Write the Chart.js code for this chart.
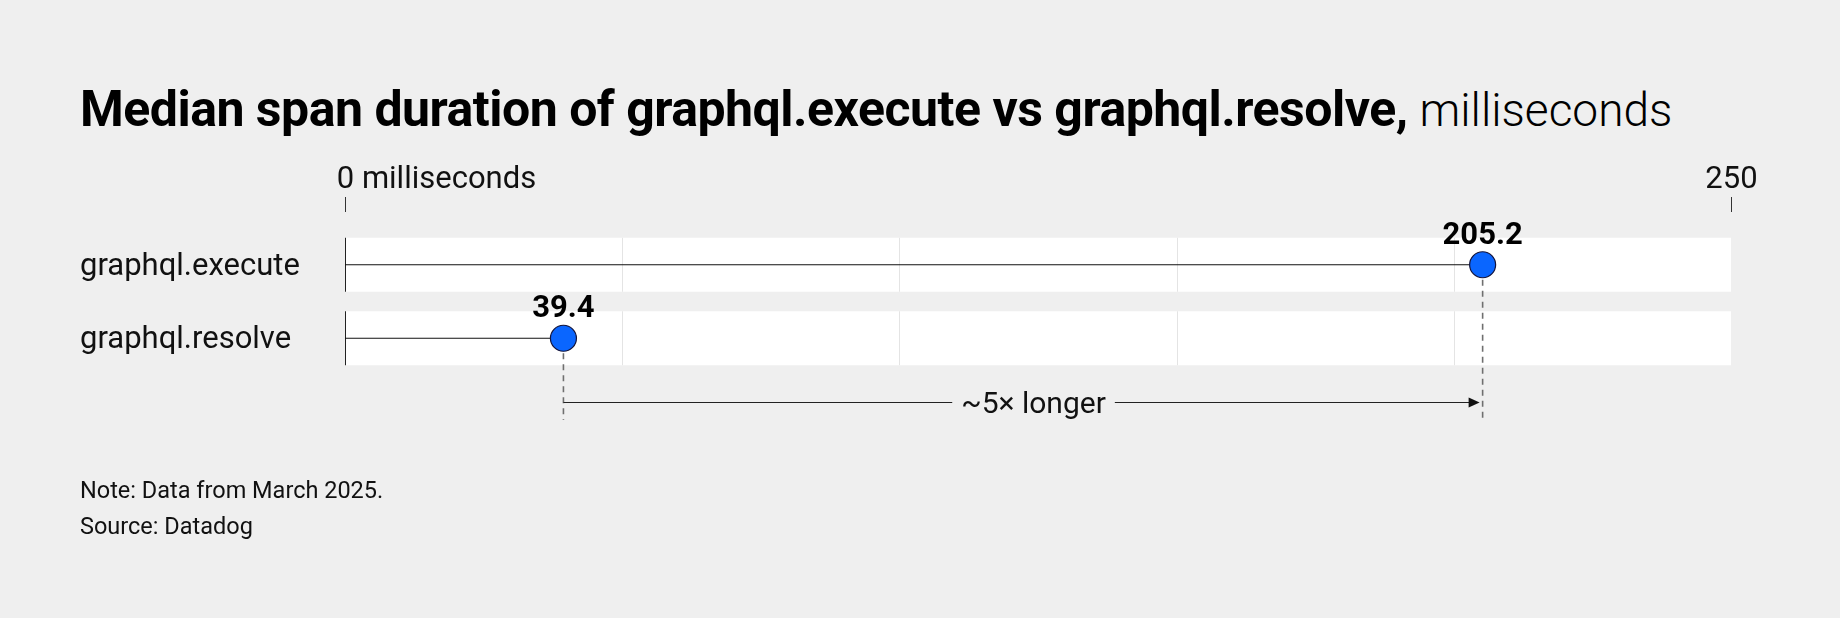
<!DOCTYPE html>
<html>
<head>
<meta charset="utf-8">
<script src="https://cdn.jsdelivr.net/npm/chart.js@4"></script>
<style>
  html, body { margin: 0; padding: 0; background: #efefef; }
  body { width: 1840px; height: 618px; position: relative; overflow: hidden; font-family: Roboto, sans-serif; color: #000; }
  #title { position: absolute; left: 80px; top: 80px; font-size: 50px; white-space: nowrap; letter-spacing: -0.5px; }
  #title b { font-weight: 700; }
  #title span { font-weight: 300; font-size: 46px; letter-spacing: 0; }
  .note { position: absolute; left: 80px; font-size: 23.5px; color: #111; }
  #wrap { position: absolute; left: 0; top: 0; width: 1840px; height: 618px; }
</style>
</head>
<body>
<div id="title"><b>Median span duration of graphql.execute vs graphql.resolve,</b> <span>milliseconds</span></div>
<div id="wrap"><canvas id="chart" width="1840" height="618"></canvas></div>
<div class="note" style="top:476px">Note: Data from March 2025.</div>
<div class="note" style="top:512px">Source: Datadog</div>
<script>
const categories = ['graphql.execute', 'graphql.resolve'];
const medians = [205.2, 39.4];
const tickValues = [0, 250];
const tickLabels = ['0 milliseconds', '250'];
const gridValues = [50, 100, 150, 200];
const compareLabel = '~5\u00d7 longer';

const FONT = 'Roboto, sans-serif';

// white row bands, grid and zero line, only inside each row
const bandsPlugin = {
    id: 'bands',
    beforeDatasetsDraw(chart) {
        const ctx = chart.ctx;
        const x = chart.scales.x, y = chart.scales.y;
        const x0 = x.getPixelForValue(tickValues[0]);
        const x1 = x.getPixelForValue(tickValues[tickValues.length - 1]);
        const half = 27;
        ctx.save();
        categories.forEach((c, i) => {
            const cy = y.getPixelForValue(i);
            ctx.fillStyle = '#ffffff';
            ctx.fillRect(x0, cy - half, x1 - x0, half * 2);
            ctx.strokeStyle = '#e4e4e4';
            ctx.lineWidth = 1;
            gridValues.forEach(v => {
                const gx = Math.round(x.getPixelForValue(v)) + 0.5;
                ctx.beginPath();
                ctx.moveTo(gx, cy - half);
                ctx.lineTo(gx, cy + half);
                ctx.stroke();
            });
            ctx.strokeStyle = '#222';
            ctx.beginPath();
            ctx.moveTo(Math.round(x0) + 0.5, cy - half);
            ctx.lineTo(Math.round(x0) + 0.5, cy + half);
            ctx.stroke();
        });
        ctx.restore();
    }
};

// labels, axis ticks, dashed guides and the comparison arrow
const labelsPlugin = {
    id: 'labels',
    afterDatasetsDraw(chart) {
        const ctx = chart.ctx;
        const x = chart.scales.x, y = chart.scales.y;
        ctx.save();

        // top axis ticks
        ctx.fillStyle = '#111';
        ctx.font = '400 31px ' + FONT;
        ctx.textBaseline = 'alphabetic';
        tickValues.forEach((v, i) => {
            const tx = Math.round(x.getPixelForValue(v)) + 0.5;
            ctx.strokeStyle = '#333';
            ctx.lineWidth = 1;
            ctx.beginPath();
            ctx.moveTo(tx, 197);
            ctx.lineTo(tx, 212);
            ctx.stroke();
            const first = tickLabels[i].split(' ')[0];
            const w0 = ctx.measureText(first).width;
            ctx.textAlign = 'left';
            ctx.fillText(tickLabels[i], tx - w0 / 2, 188);
        });

        // category labels
        ctx.textAlign = 'left';
        ctx.font = '400 31px ' + FONT;
        categories.forEach((c, i) => {
            ctx.fillText(c, 80, y.getPixelForValue(i) + 10);
        });

        // dashed guides under points
        ctx.strokeStyle = '#6f6f6f';
        ctx.lineWidth = 1.6;
        ctx.setLineDash([6, 5]);
        medians.forEach((v, i) => {
            const px = x.getPixelForValue(v);
            ctx.beginPath();
            ctx.moveTo(px, y.getPixelForValue(i) + 15);
            ctx.lineTo(px, 420);
            ctx.stroke();
        });
        ctx.setLineDash([]);

        // value labels
        ctx.fillStyle = '#000';
        ctx.font = '700 31px ' + FONT;
        ctx.textAlign = 'center';
        medians.forEach((v, i) => {
            ctx.fillText(v.toFixed(1), x.getPixelForValue(v), y.getPixelForValue(i) - 21);
        });

        // comparison arrow, label sits a bit right of the middle
        const ax0 = x.getPixelForValue(Math.min(...medians));
        const ax1 = x.getPixelForValue(Math.max(...medians)) - 3;
        const ay = 402.5;
        ctx.font = '400 30px ' + FONT;
        const tw = ctx.measureText(compareLabel).width;
        const mid = (ax0 + ax1) / 2 + 12;
        const gap = 9;
        ctx.strokeStyle = '#222';
        ctx.lineWidth = 1.2;
        ctx.beginPath();
        ctx.moveTo(ax0, ay);
        ctx.lineTo(mid - tw / 2 - gap, ay);
        ctx.moveTo(mid + tw / 2 + gap, ay);
        ctx.lineTo(ax1 - 10, ay);
        ctx.stroke();
        ctx.fillStyle = '#111';
        ctx.beginPath();
        ctx.moveTo(ax1, ay);
        ctx.lineTo(ax1 - 11, ay - 5);
        ctx.lineTo(ax1 - 11, ay + 5);
        ctx.closePath();
        ctx.fill();
        ctx.textAlign = 'center';
        ctx.fillText(compareLabel, mid, ay + 10);

        ctx.restore();
    }
};

const stemSets = categories.map((c, i) => ({
    type: 'line',
    data: [{ x: 0, y: i }, { x: medians[i], y: i }],
    borderColor: '#111',
    borderWidth: 1.2,
    pointRadius: 0,
    clip: false,
    order: 2
}));

const pointSet = {
    type: 'scatter',
    data: medians.map((v, i) => ({ x: v, y: i })),
    backgroundColor: '#0a66ff',
    borderColor: '#14143a',
    borderWidth: 1.2,
    pointRadius: 13,
    pointHoverRadius: 13,
    clip: false,
    order: 1
};

new Chart(document.getElementById('chart'), {
    type: 'scatter',
    data: { datasets: [...stemSets, pointSet] },
    options: {
        responsive: false,
        animation: false,
        devicePixelRatio: 1,
        layout: { padding: { left: 345, right: 109, top: 228, bottom: 243 } },
        plugins: { legend: { display: false }, tooltip: { enabled: false } },
        scales: {
            x: { type: 'linear', min: tickValues[0], max: tickValues[tickValues.length - 1], display: false },
            y: { type: 'linear', min: -0.5, max: categories.length - 0.5, reverse: true, display: false }
        }
    },
    plugins: [bandsPlugin, labelsPlugin]
});
</script>
</body>
</html>
